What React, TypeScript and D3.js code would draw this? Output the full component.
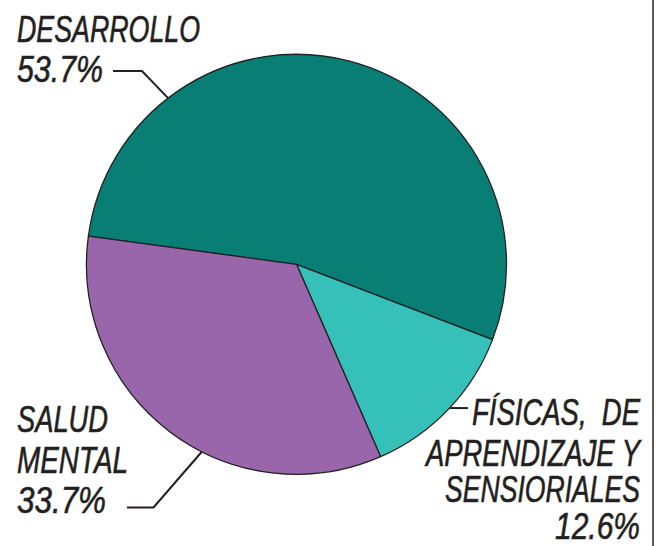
import React from "react";
import * as d3 from "d3";

const categories = ["DESARROLLO", "FÍSICAS, DE APRENDIZAJE Y SENSIORIALES", "SALUD MENTAL"];
const values = [53.7, 12.6, 33.7];
const colors = ["#087e74", "#35c1b9", "#9a66ab"];

const W = 663;
const H = 546;
const cx = 296.5;
const cy = 264.3;
const R = 210;
const deg = Math.PI / 180;

type Line = { text: string; x: number; y: number; len: number };

const labelDesarrollo: Line[] = [
  { text: "DESARROLLO", x: 17, y: 41.5, len: 183 },
  { text: "53.7%", x: 17, y: 81.5, len: 86 },
];
const labelSalud: Line[] = [
  { text: "SALUD", x: 17, y: 431.5, len: 91 },
  { text: "MENTAL", x: 17, y: 472.5, len: 111 },
  { text: "33.7%", x: 17, y: 512.5, len: 89 },
];
const labelFisicas: Line[] = [
  { text: "FÍSICAS,  DE", x: 472, y: 425, len: 168 },
  { text: "APRENDIZAJE Y", x: 426, y: 466, len: 214 },
  { text: "SENSIORIALES", x: 445, y: 502, len: 195 },
  { text: "12.6%", x: 555, y: 539, len: 85 },
];

function edge(angleDeg: number): [number, number] {
  const a = angleDeg * deg;
  return [cx + R * Math.sin(a), cy - R * Math.cos(a)];
}

export default function App() {
  const pie = d3
    .pie<number>()
    .sort(null)
    .startAngle(-82.3 * deg)
    .endAngle((360 - 82.3) * deg);
  const arcs = pie(values);
  const arc = d3.arc<d3.PieArcDatum<number>>().innerRadius(0).outerRadius(R);

  const dEnd = edge(322.3);
  const sEnd = edge(206.8);
  const fEnd = edge(133.2);

  const line = d3.line();
  const leaderD = line([[113, 71], [142, 71], dEnd])!;
  const leaderS = line([[127, 507.5], [153.5, 507.5], sEnd])!;
  const leaderF = line([fEnd, [468, fEnd[1]]])!;

  const textStyle: React.CSSProperties = {
    fontFamily: "'Liberation Sans Narrow', 'Liberation Sans', Arial, sans-serif",
    fontStyle: "italic",
    fontSize: 36.5,
    fill: "#231f20",
    stroke: "#231f20",
    strokeWidth: 0.6,
    whiteSpace: "pre",
  };

  const renderLines = (lines: Line[]) =>
    lines.map((l, i) => (
      <text
        key={i}
        x={l.x}
        y={l.y}
        textLength={l.len}
        lengthAdjust="spacingAndGlyphs"
        xmlSpace="preserve"
        style={textStyle}
      >
        {l.text}
      </text>
    ));

  return (
    <svg
      width={W}
      height={H}
      style={{ position: "absolute", left: 0, top: 0, background: "#fff" }}
    >
      <g transform={`translate(${cx},${cy})`}>
        {arcs.map((a, i) => (
          <path
            key={categories[i]}
            d={arc(a)!}
            fill={colors[i]}
            stroke="#222"
            strokeWidth={1.3}
            strokeLinejoin="round"
          />
        ))}
      </g>
      <path d={leaderD} fill="none" stroke="#231f20" strokeWidth={2} />
      <path d={leaderS} fill="none" stroke="#231f20" strokeWidth={2} />
      <path d={leaderF} fill="none" stroke="#231f20" strokeWidth={2} />
      {renderLines(labelDesarrollo)}
      {renderLines(labelSalud)}
      {renderLines(labelFisicas)}
      <line x1={653} y1={0} x2={653} y2={H} stroke="#333" strokeWidth={1.6} />
    </svg>
  );
}
